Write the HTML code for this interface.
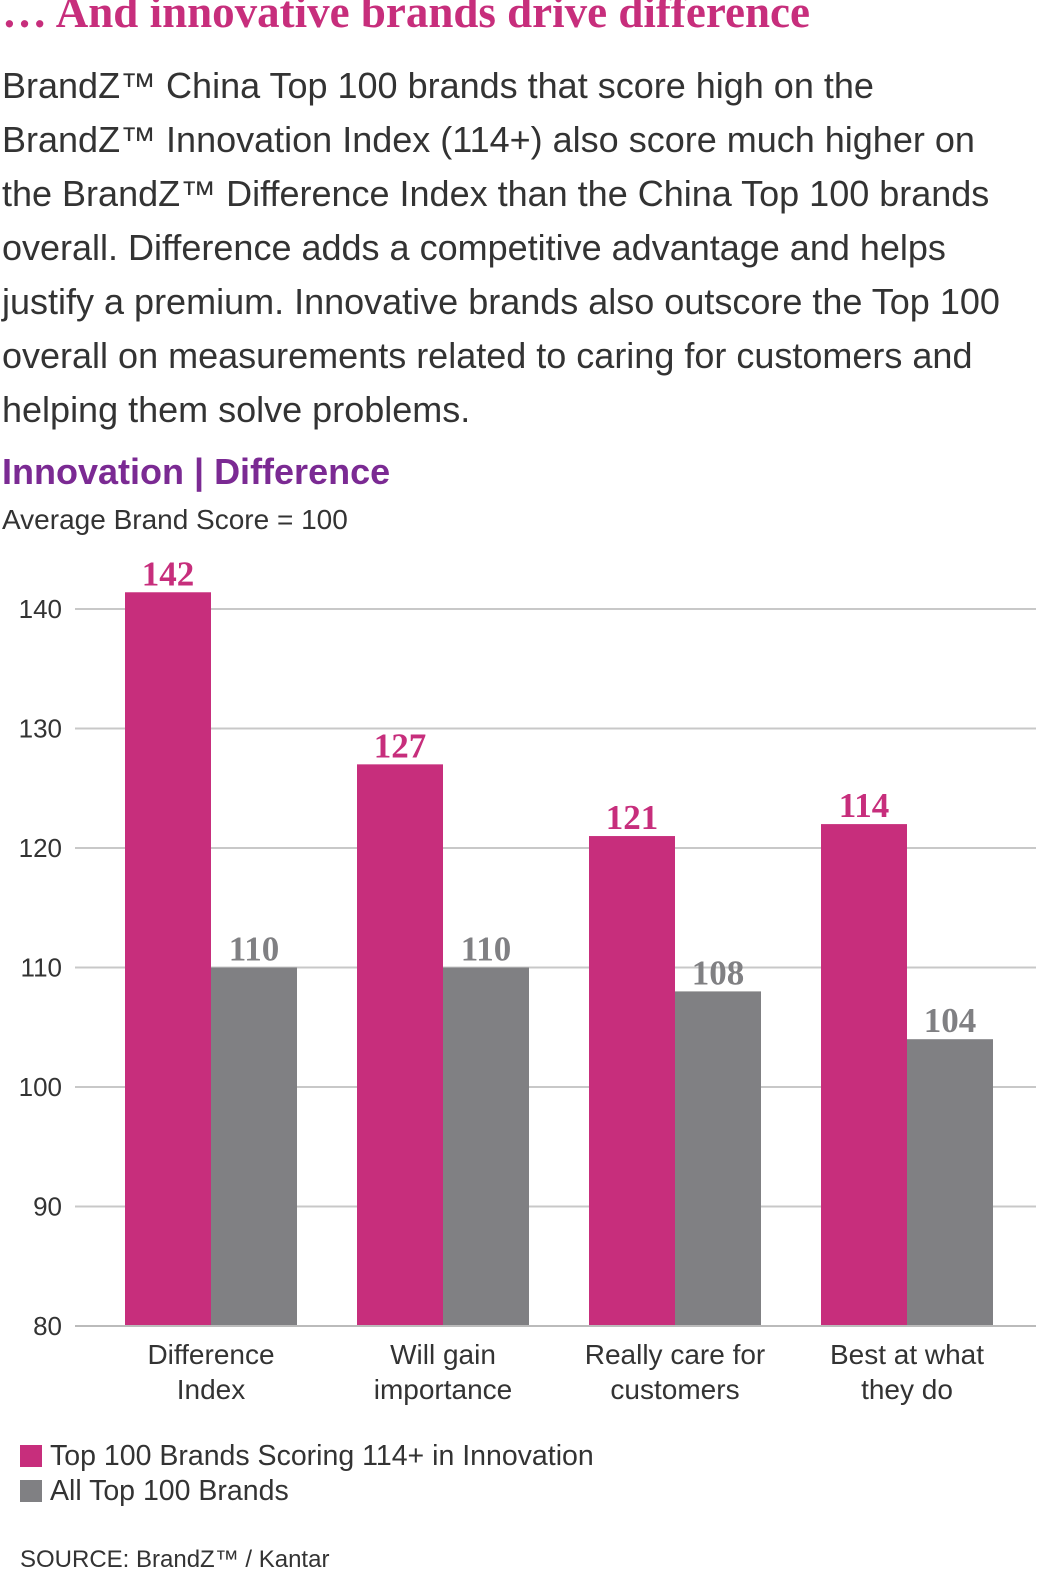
<!DOCTYPE html>
<html><head><meta charset="utf-8"><style>
body{margin:0;background:#fff;width:1046px;height:1574px;overflow:hidden;position:relative;font-family:"Liberation Sans",sans-serif;}
.t{position:absolute;white-space:nowrap;}
</style></head><body>
<div class="t" style="left:2px;top:-14px;font:bold 45px 'Liberation Serif',serif;color:#c72e7c;">… And innovative brands drive difference</div>
<div class="t" style="left:2px;top:59px;font-size:36px;line-height:54px;color:#333;white-space:normal;width:1044px;">BrandZ™ China Top 100 brands that score high on the<br>BrandZ™ Innovation Index (114+) also score much higher on<br>the BrandZ™ Difference Index than the China Top 100 brands<br>overall. Difference adds a competitive advantage and helps<br>justify a premium. Innovative brands also outscore the Top 100<br>overall on measurements related to caring for customers and<br>helping them solve problems.</div>
<div class="t" style="left:2px;top:451px;font-weight:bold;font-size:36px;color:#7b2a93;">Innovation | Difference</div>
<div class="t" style="left:2px;top:504px;font-size:28px;color:#333;">Average Brand Score = 100</div>
<svg id="chart" width="1046" height="1574" style="position:absolute;left:0;top:0;"></svg>
<div class="t" style="left:20px;top:1440px;font-size:28.5px;color:#333;"><span style="display:inline-block;width:22px;height:22px;background:#c72e7c;vertical-align:-2px;margin-right:8px;"></span>Top 100 Brands Scoring 114+ in Innovation</div>
<div class="t" style="left:20px;top:1475px;font-size:28.5px;color:#333;"><span style="display:inline-block;width:22px;height:22px;background:#808083;vertical-align:-2px;margin-right:8px;"></span>All Top 100 Brands</div>
<div class="t" style="left:20px;top:1546px;font-size:24px;color:#333;">SOURCE: BrandZ™ / Kantar</div>
<script>
const categories=[["Difference","Index"],["Will gain","importance"],["Really care for","customers"],["Best at what","they do"]];
const pinkValues=[141.4,127,121,122];
const pinkLabels=["142","127","121","114"];
const grayValues=[110,110,108,104];
const grayLabels=["110","110","108","104"];
const ticks=[80,90,100,110,120,130,140];
const svg=document.getElementById('chart');
const NS='http://www.w3.org/2000/svg';
const y=v=>1326-(v-80)*11.95;
const cx=i=>211+i*232;
const BW=86;
function mk(tag,attrs,text){const e=document.createElementNS(NS,tag);for(const k in attrs)e.setAttribute(k,attrs[k]);if(text!==undefined)e.textContent=text;svg.appendChild(e);return e;}
ticks.forEach(t=>{
 const l=mk('line',{x1:75,x2:1036,y1:y(t),y2:y(t),stroke:'#c8c8c8','stroke-width':2});
 
 
 const tx=mk('text',{x:62,y:y(t)+9,'text-anchor':'end','font-size':26,fill:'#333','font-family':'Liberation Sans, sans-serif'},t);
 
 
});
categories.forEach((c,i)=>{
 const p=mk('rect',{x:cx(i)-BW,y:y(pinkValues[i]),width:BW,height:1326-y(pinkValues[i]),fill:'#c72e7c'});
 
 
 const g=mk('rect',{x:cx(i),y:y(grayValues[i]),width:BW,height:1326-y(grayValues[i]),fill:'#808083'});
 
 
 const pl=mk('text',{x:cx(i)-BW/2,y:y(pinkValues[i])-7,'text-anchor':'middle','font-size':35,'font-weight':'bold',fill:'#c72e7c','font-family':'Liberation Serif, serif'},pinkLabels[i]);
 
 
 const gl=mk('text',{x:cx(i)+BW/2,y:y(grayValues[i])-7,'text-anchor':'middle','font-size':35,'font-weight':'bold',fill:'#808083','font-family':'Liberation Serif, serif'},grayLabels[i]);
 
 
 c.forEach((s,j)=>{
  const ct=mk('text',{x:cx(i),y:1364+j*35,'text-anchor':'middle','font-size':28,fill:'#333','font-family':'Liberation Sans, sans-serif'},s);
  
  
 });
});
const base=mk('line',{x1:75,x2:1036,y1:1326,y2:1326,stroke:'#bbb','stroke-width':2});


</script>
</body></html>
